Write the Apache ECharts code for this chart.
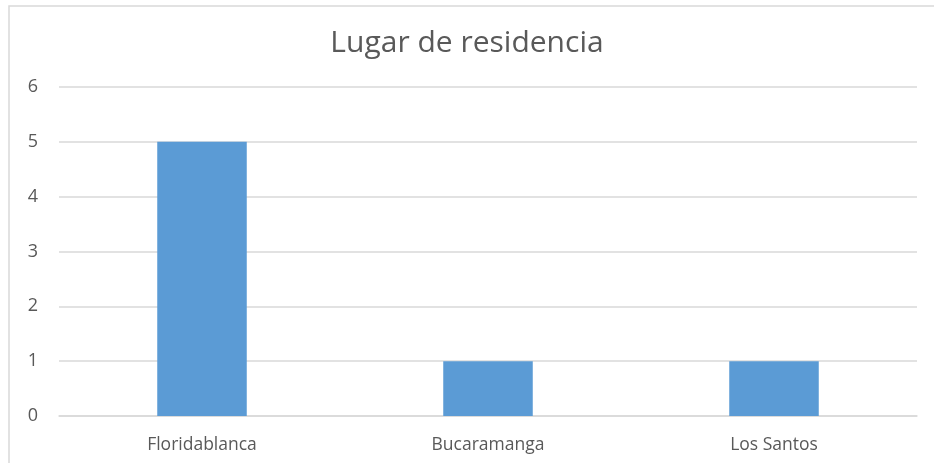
<!DOCTYPE html>
<html><head><meta charset="utf-8">
<script src="https://cdn.jsdelivr.net/npm/echarts@6/dist/echarts.min.js"></script>
<style>html,body{margin:0;padding:0;background:#fff}#c{width:934px;height:463px}</style>
</head><body><div id="c"></div>
<script>
const categories = ['Floridablanca', 'Bucaramanga', 'Los Santos'];
const values = [5, 1, 1];
const chart = echarts.init(document.getElementById('c'));
chart.setOption({
  animation: false,
  backgroundColor: '#fff',
  graphic: [{
    type: 'rect', shape: {x: 9, y: 6, width: 940, height: 470},
    style: {fill: 'none', stroke: '#d9d9d9', lineWidth: 1.5}, silent: true
  }],
  title: {
    text: 'Lugar de residencia', left: 'center', top: 23,
    textStyle: {fontFamily: 'Open Sans', fontSize: 30, fontWeight: 'normal', color: '#595959'}
  },
  grid: {left: 59, right: 17, top: 87, bottom: 47, containLabel: false},
  xAxis: {
    type: 'category', data: categories,
    axisLine: {show: true, lineStyle: {color: '#d9d9d9', width: 1.5}},
    axisTick: {show: false},
    axisLabel: {fontFamily: 'Open Sans', fontSize: 17.5, color: '#595959', margin: 20}
  },
  yAxis: {
    type: 'value', min: 0, max: 6, interval: 1,
    axisLine: {show: false}, axisTick: {show: false},
    splitLine: {lineStyle: {color: '#d9d9d9', width: 1.5}},
    axisLabel: {fontFamily: 'Open Sans', fontSize: 18, color: '#595959', margin: 21}
  },
  series: [{
    type: 'bar', data: values, barWidth: '31.3%',
    itemStyle: {color: '#5b9bd5'}
  }]
});
</script></body></html>
